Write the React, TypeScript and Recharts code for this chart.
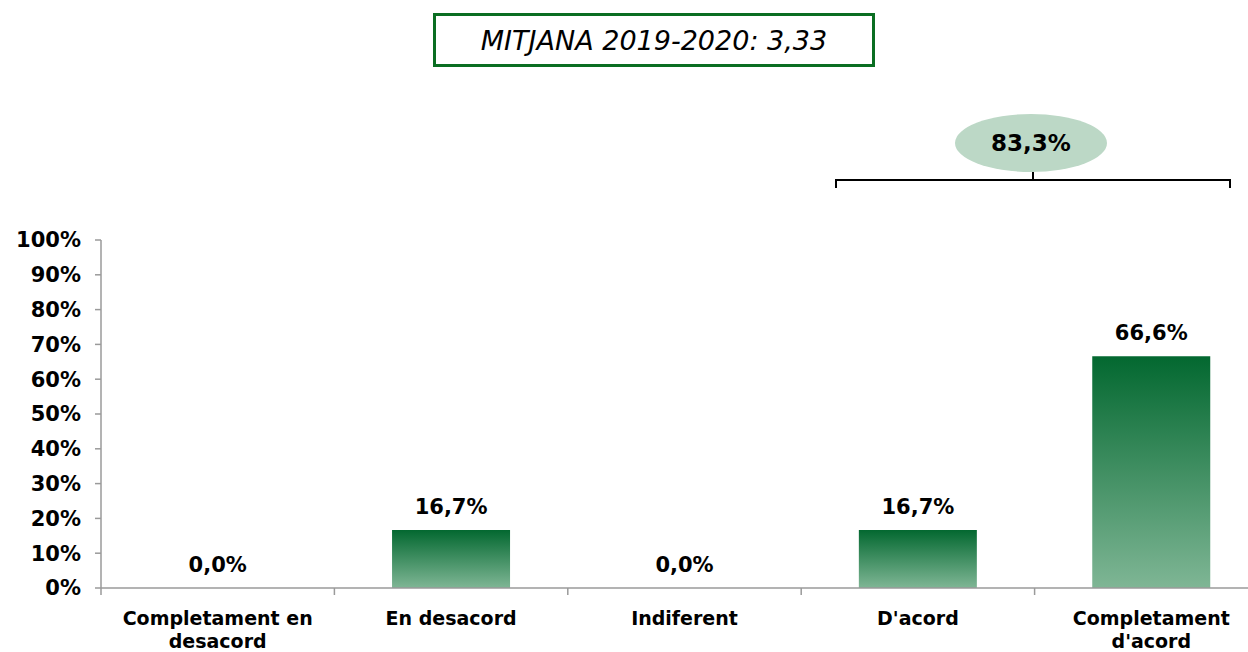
import React from 'react';
import { ComposedChart, Bar, Line, XAxis, YAxis, LabelList } from 'recharts';

const categories = ['Completament en|desacord', 'En desacord', 'Indiferent', "D'acord", "Completament|d'acord"];
const values = [0, 16.7, 0, 16.7, 66.6];
const yTicks = [0, 10, 20, 30, 40, 50, 60, 70, 80, 90, 100];
const meanLabel = 'MITJANA 2019-2020: 3,33';

const FONT = '"DejaVu Sans", Verdana, sans-serif';
const CHART_W = 1268;
const CHART_H = 652;
const Y_AXIS_W = 101;
const X_AXIS_H = 64;
const PLOT_TOP = 240;
const PLOT_BOTTOM = CHART_H - X_AXIS_H;
const BAND = (CHART_W - Y_AXIS_W) / categories.length;

const data = categories.map((c, i) => ({ name: c, value: values[i] }));

const fmt = (v: number) => `${v.toFixed(1).replace('.', ',')}%`;

// category label, two lines, plus the boundary tick mark on the left of each band
const XTick = (props: any) => {
    const { x, payload } = props;
    const lines = String(payload.value).split('|');
    return (
        <g>
            <line x1={x - BAND / 2} x2={x - BAND / 2} y1={PLOT_BOTTOM} y2={PLOT_BOTTOM + 7} stroke="#9a9a9a" strokeWidth={1.5} />
            {lines.map((l, i) => (
                <text key={i} x={x} y={PLOT_BOTTOM + 37 + i * 23} textAnchor="middle" fontFamily={FONT} fontWeight="bold" fontSize={19} fill="#000">
                    {l}
                </text>
            ))}
        </g>
    );
};

export default function App() {
    const agreeTotal = values[3] + values[4];

    return (
        <div style={{ position: 'fixed', left: 0, top: 0, width: 1248, height: 652, overflow: 'hidden', background: '#fff' }}>
            <ComposedChart
                width={CHART_W}
                height={CHART_H}
                data={data}
                margin={{ top: PLOT_TOP, right: 0, left: 0, bottom: 0 }}
                barCategoryGap="24.7%"
            >
                <defs>
                    <linearGradient id="barGrad" x1="0" y1="0" x2="0" y2="1">
                        <stop offset="0%" stopColor="#036830" />
                        <stop offset="100%" stopColor="#7fb695" />
                    </linearGradient>
                </defs>
                <XAxis
                    dataKey="name"
                    height={X_AXIS_H}
                    interval={0}
                    tickLine={false}
                    axisLine={{ stroke: '#9a9a9a', strokeWidth: 1.5 }}
                    tick={<XTick />}
                />
                <YAxis
                    width={Y_AXIS_W}
                    domain={[0, 100]}
                    ticks={yTicks}
                    interval={0}
                    tickSize={6}
                    tickMargin={14}
                    tickFormatter={(v: number) => `${v}%`}
                    axisLine={{ stroke: '#9a9a9a', strokeWidth: 1.5 }}
                    tickLine={{ stroke: '#9a9a9a', strokeWidth: 1.5 }}
                    tick={{ fill: '#000', fontFamily: FONT, fontWeight: 'bold', fontSize: 21 }}
                />
                <Bar dataKey="value" fill="url(#barGrad)" isAnimationActive={false} />
                {/* invisible series carrying the value labels, so 0,0% shows too */}
                <Line dataKey="value" stroke="none" dot={false} activeDot={false} isAnimationActive={false} legendType="none">
                    <LabelList
                        dataKey="value"
                        position="top"
                        offset={16}
                        formatter={(v: any) => fmt(Number(v))}
                        style={{ fill: '#000', fontFamily: FONT, fontWeight: 'bold', fontSize: 21 }}
                    />
                </Line>
            </ComposedChart>

            {/* title box */}
            <div
                style={{
                    position: 'absolute', left: 433, top: 13, width: 442, height: 54, boxSizing: 'border-box',
                    border: '3px solid #0a6e22', display: 'flex', alignItems: 'center', justifyContent: 'center',
                    fontFamily: FONT, fontStyle: 'italic', fontSize: 27, color: '#000',
                }}
            >
                {meanLabel}
            </div>

            {/* bracket + bubble for the agree total */}
            <svg width={1248} height={200} style={{ position: 'absolute', left: 0, top: 0 }}>
                <ellipse cx={1031} cy={143} rx={76} ry={29} fill="#bcd8c6" />
                <text x={1031} y={151} textAnchor="middle" fontFamily={FONT} fontWeight="bold" fontSize={23} fill="#000">
                    {fmt(agreeTotal)}
                </text>
                <path d="M836,188 V180 H1230 V188 M1033,180 V172" fill="none" stroke="#000" strokeWidth={2} />
            </svg>
        </div>
    );
}
